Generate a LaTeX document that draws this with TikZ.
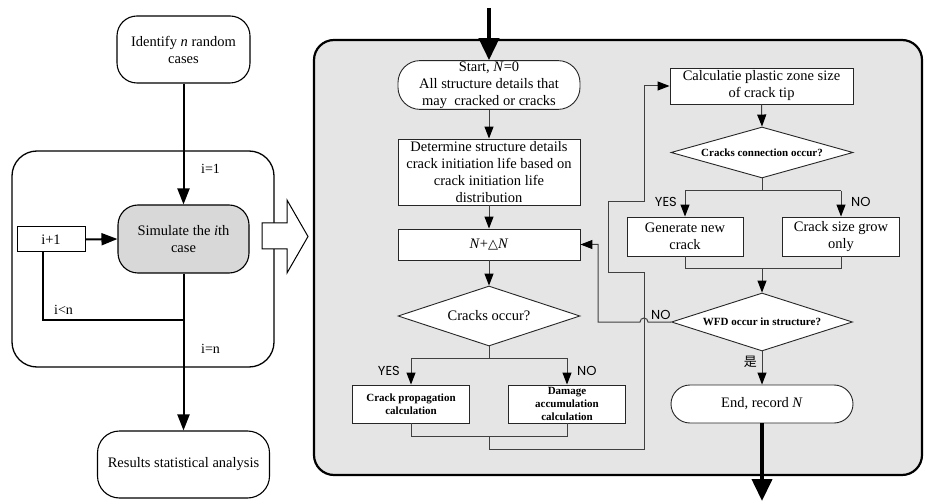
\documentclass[tikz,border=0pt]{standalone}
\usepackage{fontspec}
\setmainfont{Liberation Serif}
\newfontfamily\labelsans{Poppins}
\newfontfamily\cjkfont{Noto Sans CJK SC}
\newfontfamily\symfont{DejaVu Sans}
\usetikzlibrary{arrows.meta,shapes.geometric}
\definecolor{panelgray}{HTML}{E5E5E5}
\definecolor{simgray}{HTML}{D8D8D8}
\definecolor{flowline}{HTML}{404040}

\begin{document}
\begin{tikzpicture}[x=1pt,y=-1pt,
  txt/.style={font=\fontsize{14.5}{17}\selectfont, align=center, inner sep=1pt},
  boldtxt/.style={font=\fontsize{11}{13}\selectfont\bfseries, align=center, inner sep=1pt},
  lbl/.style={font=\fontsize{14}{16}\selectfont, inner sep=0pt},
  yn/.style={font=\labelsans\fontsize{13}{15}\selectfont, inner sep=0pt},
  roundbox/.style={draw=black, line width=1.1pt, fill=white, rectangle, rounded corners=20pt, txt},
  box/.style={draw=black!85, line width=0.9pt, fill=white, rectangle, txt},
  stadium/.style={box, rounded corners=19pt},
  decision/.style={draw=black!85, line width=0.9pt, fill=white, diamond, aspect=3, inner sep=0pt},
  loopline/.style={draw=black, line width=2pt},
  looparrow/.style={draw=black, line width=2pt, -{Triangle[length=16pt,width=12pt,color=black]}},
  flow/.style={draw=flowline, line width=1pt},
  flowarrow/.style={flow, -{Triangle[length=12pt,width=9pt,color=black]}},
  bigarrow/.style={draw=black, line width=4pt, -{Triangle[length=22pt,width=20pt]}}
]
\useasboundingbox (0,0) rectangle (925,502);

% ---------------- outer simulation loop ----------------
\draw[line width=1.3pt, rounded corners=25pt] (12,151) rectangle (274,367);

\node[roundbox, minimum width=133pt, minimum height=67pt] (ident) at (183.5,49.5) {Identify \textit{n} random\\cases};
\node[roundbox, fill=simgray, minimum width=131pt, minimum height=68pt] (sim) at (183.5,239) {Simulate the \textit{i}th\\case};
\node[draw=black, line width=1pt, fill=white, rectangle, minimum width=68pt, minimum height=25pt, txt] (inc) at (51,239.5) {i+1};
\node[roundbox, rounded corners=22pt, minimum width=172pt, minimum height=67pt] (res) at (183.5,464.5) {Results statistical analysis};

\coordinate (join) at (183.5,320);
\coordinate (loopcorner) at (43,320);

\draw[looparrow] (ident.south) -- (sim.north);
\draw[looparrow] (inc.east) -- (sim.west);
\draw[loopline] (sim.south) -- (join) -- (loopcorner) -- (loopcorner |- inc.south);
\draw[looparrow] (join) -- (res.north);

\node[lbl, anchor=west] (lfirst) at (201,169) {i=1};
\node[lbl, anchor=west] (lless) at (54,310) {i<n};
\node[lbl, anchor=west] (llast) at (201,349) {i=n};

% hollow arrow into the detailed procedure
\draw[line width=1pt, fill=white] (262,223) -- (287,223) -- (287,200) -- (308,236.5)
  -- (287,273) -- (287,249) -- (262,249) -- cycle;

% ---------------- single case procedure ----------------
\draw[line width=2.2pt, fill=panelgray, rounded corners=20pt] (314,40) rectangle (922,475);

\node[stadium, rounded corners=22pt, minimum width=182pt, minimum height=48pt] (start) at (489,85)
  {Start, \textit{N}=0\\All structure details that\\may\ \ cracked or cracks};
\node[box, minimum width=182pt, minimum height=66pt] (det) at (489,172)
  {Determine structure details\\crack initiation life based on\\crack initiation life\\distribution};
\node[box, minimum width=182pt, minimum height=31pt] (ndn) at (489,244.5)
  {\textit{N}+{\symfont\fontsize{13}{15}\selectfont △}\textit{N}};
\node[decision, minimum width=182pt, minimum height=60pt, txt] (occ) at (489,316) {Cracks occur?};
\node[box, boldtxt, minimum width=117pt, minimum height=38pt] (crp) at (411,404) {Crack propagation\\calculation};
\node[box, boldtxt, minimum width=117pt, minimum height=38pt] (dmg) at (567,404) {Damage\\accumulation\\calculation};

\node[box, minimum width=183pt, minimum height=36pt] (calc) at (761.5,86) {Calculatie plastic zone size\\of crack tip};
\node[decision, minimum width=182pt, minimum height=49pt, boldtxt] (conn) at (762,152.5) {Cracks connection occur?};
\node[box, minimum width=116pt, minimum height=39pt] (gen) at (685,236.5) {Generate new\\crack};
\node[box, minimum width=117pt, minimum height=39pt] (grow) at (841,236.5) {Crack size grow\\only};
\node[decision, minimum width=181pt, minimum height=58pt, boldtxt] (wfd) at (762,322) {WFD occur in structure?};
\node[stadium, minimum width=182pt, minimum height=38pt] (end) at (762,404) {End, record \textit{N}};

% branch and merge points
\coordinate (topin) at (489,8);
\coordinate (occsplit) at (489,358);
\coordinate (occyes) at (411,358);
\coordinate (occno) at (567,358);
\coordinate (calcmerge) at (489,436);
\coordinate (r1) at (489,449);
\coordinate (r2) at (644,449);
\coordinate (r3) at (644,273);
\coordinate (r4) at (608,273);
\coordinate (r5) at (608,202);
\coordinate (r6) at (644,202);
\coordinate (r7) at (644,86);
\coordinate (connsplit) at (762,191);
\coordinate (connyes) at (685,191);
\coordinate (connno) at (841,191);
\coordinate (growmerge) at (762,269);
\coordinate (hopstart) at (648,322);
\coordinate (backcorner) at (598,322);
\coordinate (bottomout) at (762,501);

\draw[bigarrow] (topin) -- (start.north);
\draw[flowarrow] (start.south) -- (det.north);
\draw[flowarrow] (det.south) -- (ndn.north);
\draw[flowarrow] (ndn.south) -- (occ.north);

\draw[flow] (occ.south) -- (occsplit);
\draw[flow] (occyes) -- (occno);
\draw[flowarrow] (occyes) -- (crp.north);
\draw[flowarrow] (occno) -- (dmg.north);
\node[yn, anchor=east] (yesa) at (400,370.5) {YES};
\node[yn, anchor=west] (noa) at (577,370.5) {NO};

\draw[flow] (crp.south) -- (crp.south |- calcmerge) -- (dmg.south |- calcmerge) -- (dmg.south);
\draw[flowarrow] (calcmerge) -- (r1) -- (r2) -- (r3) -- (r4) -- (r5) -- (r6) -- (r7) -- (calc.west);

\draw[flowarrow] (calc.south) -- (conn.north);
\draw[flow] (conn.south) -- (connsplit);
\draw[flow] (connyes) -- (connno);
\draw[flowarrow] (connyes) -- (gen.north);
\draw[flowarrow] (connno) -- (grow.north);
\node[yn, anchor=east] (yesb) at (677,202) {YES};
\node[yn, anchor=west] (nob) at (851,202) {NO};

\draw[flow] (gen.south) -- (gen.south |- growmerge) -- (grow.south |- growmerge) -- (grow.south);
\draw[flowarrow] (growmerge) -- (wfd.north);

\draw[flowarrow] (wfd.west) -- (hopstart) arc[start angle=0, end angle=-180, radius=4]
  -- (backcorner) -- (backcorner |- ndn.east) -- (ndn.east);
\node[yn, anchor=west] (noc) at (651,315) {NO};

\draw[flowarrow] (wfd.south) -- (end.north);
\node[inner sep=0pt, font=\cjkfont\fontsize{13}{15}\selectfont, anchor=east] (yesc) at (757,362) {是};

\draw[bigarrow] (end.south) -- (bottomout);
\end{tikzpicture}
\end{document}
